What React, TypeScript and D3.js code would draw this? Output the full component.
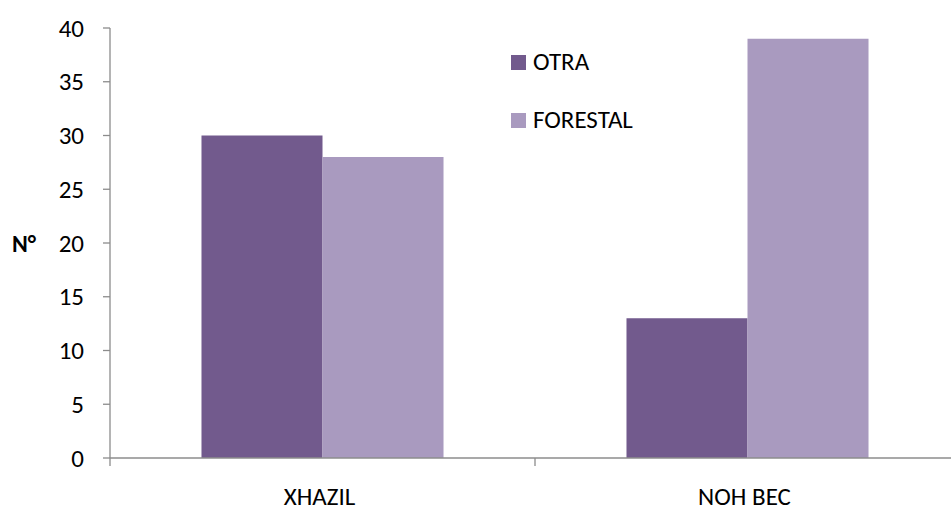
import React from 'react';
import * as d3 from 'd3';

const categories = ['XHAZIL', 'NOH BEC'];
const seriesNames = ['OTRA', 'FORESTAL'];
const otraValues = [30, 13];
const forestalValues = [28, 39];
const yTicks = [0, 5, 10, 15, 20, 25, 30, 35, 40];

const colors = ['#725A8D', '#A99ABF'];
const font = 'Carlito, Calibri, "Liberation Sans", sans-serif';

const App = () => {
  const width = 951;
  const height = 511;
  const left = 110;
  const right = 960;
  const top = 28;
  const bottom = 458;

  const x = d3.scaleBand<string>().domain(categories).range([left, right]).paddingInner(0).paddingOuter(0);
  const x1 = d3.scaleBand<string>().domain(seriesNames).range([0, x.bandwidth()]).paddingOuter(0.756).paddingInner(0);
  const y = d3.scaleLinear().domain([0, 40]).range([bottom, top]);

  const series = [otraValues, forestalValues];
  const axisColor = '#8c8c8c';

  return (
    <svg width={width} height={height} style={{ position: 'absolute', left: 0, top: 0, background: '#fff' }}>
      {series.map((vals, si) =>
        categories.map((c, ci) => (
          <rect
            key={`${si}-${ci}`}
            x={(x(c) as number) + (x1(seriesNames[si]) as number)}
            y={y(vals[ci])}
            width={x1.bandwidth()}
            height={y(0) - y(vals[ci])}
            fill={colors[si]}
          />
        ))
      )}

      {/* y axis */}
      <line x1={left} x2={left} y1={top} y2={bottom} stroke={axisColor} strokeWidth={1.3} />
      {yTicks.map(t => (
        <g key={t}>
          <line x1={left - 7} x2={left} y1={y(t)} y2={y(t)} stroke={axisColor} strokeWidth={1.3} />
          <text x={84} y={y(t)} dy="0.34em" textAnchor="end" fontFamily={font} fontSize={25} fill="#000">{t}</text>
        </g>
      ))}

      {/* x axis */}
      <line x1={left} x2={width} y1={bottom} y2={bottom} stroke={axisColor} strokeWidth={1.3} />
      {[...categories.map(c => x(c) as number), right].map((px, i) => (
        <line key={i} x1={px} x2={px} y1={bottom} y2={bottom + 8} stroke={axisColor} strokeWidth={1.3} />
      ))}
      {categories.map(c => (
        <text key={c} x={(x(c) as number) + x.bandwidth() / 2 - 3} y={505} textAnchor="middle" fontFamily={font} fontSize={25} fill="#000">{c}</text>
      ))}

      <text x={12} y={252} fontFamily={font} fontSize={24} fontWeight="bold" fill="#000">N°</text>

      {/* legend */}
      {seriesNames.map((s, i) => (
        <g key={s} transform={`translate(511, ${55 + i * 58})`}>
          <rect x={0} y={0} width={15} height={15} fill={colors[i]} />
          <text x={22} y={15} fontFamily={font} fontSize={25} fill="#000">{s}</text>
        </g>
      ))}
    </svg>
  );
};

export default App;
